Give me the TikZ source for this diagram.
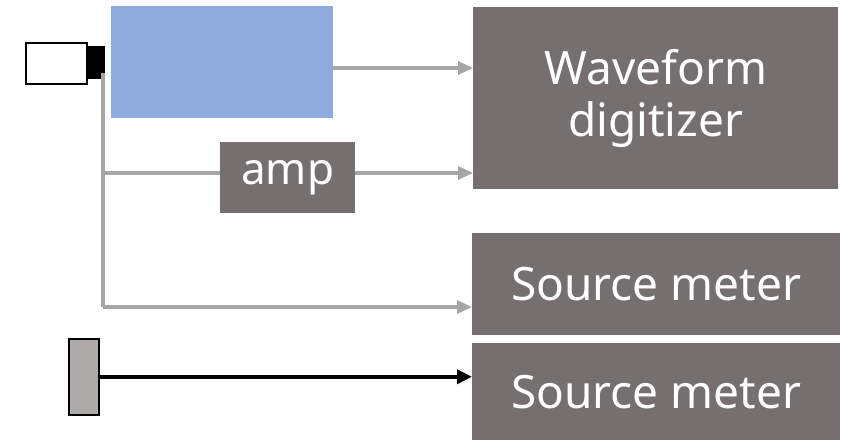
\documentclass[tikz,border=0pt]{standalone}
\usepackage{fontspec}
\setmainfont{Noto Sans}
\usetikzlibrary{arrows.meta}
\definecolor{boxgray}{RGB}{117,112,111}
\definecolor{lightblue}{RGB}{143,170,220}
\definecolor{linegray}{RGB}{166,166,166}
\definecolor{bargray}{RGB}{174,170,170}
\tikzset{
  darkbox/.style={fill=boxgray,draw=none,inner sep=0pt,text=white,align=center,anchor=north west},
  glink/.style={draw=linegray,line width=3.3pt},
  garrow/.style={glink,-{Triangle[length=15pt,width=13pt]}},
  barrow/.style={draw=black,line width=3.5pt,-{Triangle[length=15pt,width=14pt]}},
}
\begin{document}
\begin{tikzpicture}[x=1pt,y=-1pt]
\useasboundingbox (0,0) rectangle (841,442);
% boxes
\node[darkbox,minimum width=365pt,minimum height=182pt,font=\fontsize{46}{52}\selectfont] (wf) at (473,7) {Waveform\\digitizer};
\node[darkbox,minimum width=368pt,minimum height=102pt,font=\fontsize{46}{52}\selectfont] (sm1) at (472,233) {Source meter};
\node[darkbox,minimum width=368pt,minimum height=97pt,font=\fontsize{46}{52}\selectfont] (sm2) at (472,343) {Source meter};
\node[darkbox,minimum width=135pt,minimum height=71pt,font=\fontsize{44}{50}\selectfont] (amp) at (220,142) {amp};
\node[fill=lightblue,draw=none,inner sep=0pt,minimum width=222pt,minimum height=112pt,anchor=north west] (blue) at (111,6) {};
% detector
\node[draw=black,line width=1.5pt,fill=white,inner sep=0pt,minimum width=61pt,minimum height=41pt,anchor=north west] (det) at (25,42) {};
\node[fill=black,inner sep=0pt,minimum width=19pt,minimum height=33pt,anchor=north west] (tip) at (86,46) {};
% bar
\node[draw=black,line width=1.5pt,fill=bargray,inner sep=0pt,minimum width=30pt,minimum height=76pt,anchor=north west] (bar) at (68,338) {};
% coordinates
\coordinate (top) at (103,73);
\coordinate (j1) at (103,173);
\coordinate (j2) at (103,307);
\coordinate (a1) at (333,68);
% connectors
\draw[garrow] (blue.east |- a1) -- (a1 -| wf.west);
\draw[glink] (top) -- (j2);
\draw[garrow] (j2) -- (j2 -| sm1.west);
\draw[glink] (j1) -- (j1 -| amp.west);
\draw[garrow] (amp.east |- j1) -- (j1 -| wf.west);
\draw[barrow] (bar.east) -- (bar.east -| sm2.west);
\end{tikzpicture}
\end{document}
